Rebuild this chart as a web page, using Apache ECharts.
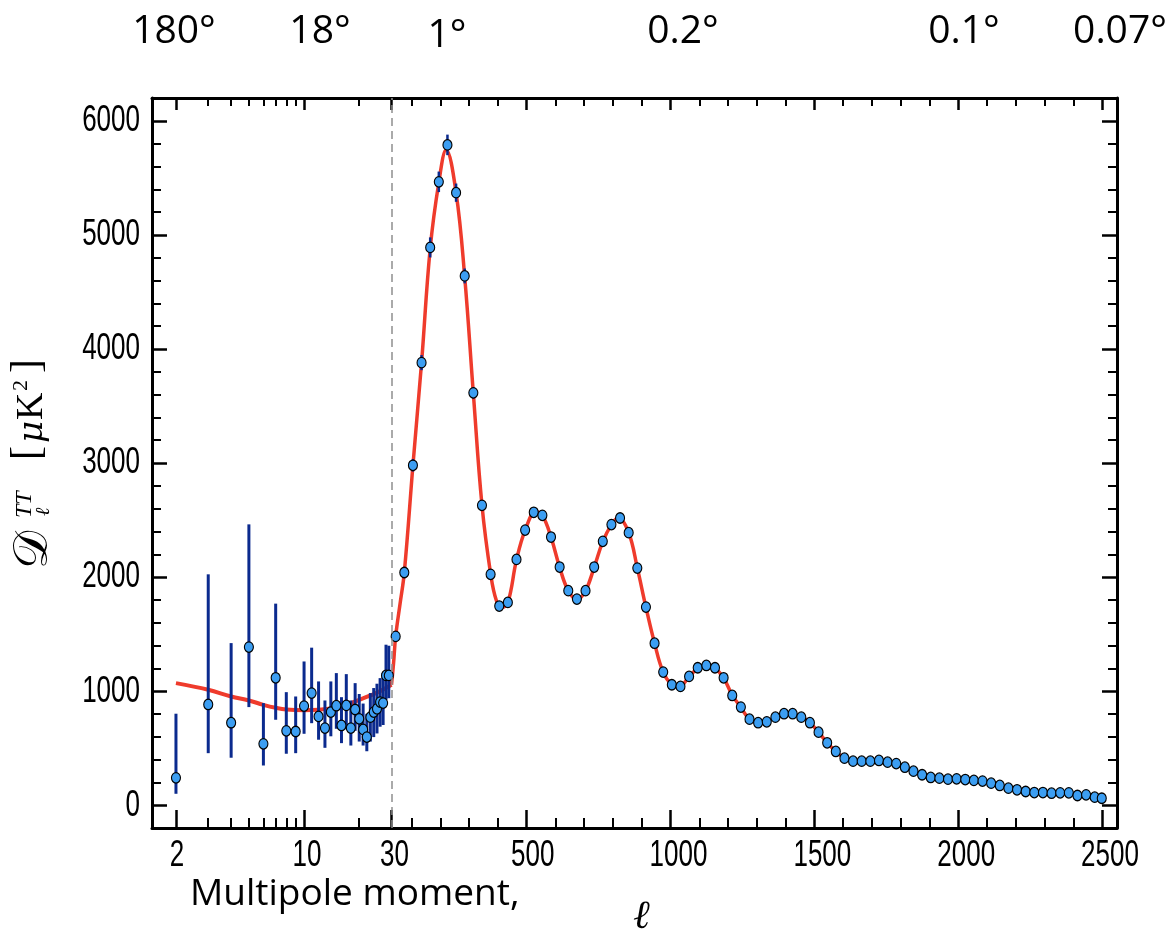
<!DOCTYPE html>
<html><head><meta charset="utf-8">
<script src="https://cdn.jsdelivr.net/npm/echarts@6/dist/echarts.min.js"></script>
<style>html,body{margin:0;padding:0;background:#fff}#c{width:1172px;height:937px}</style>
</head><body><div id="c"></div>
<script>
// ---------- data ----------
const lowL = [2,3,4,5,6,7,8,9,10,11,12,13,14,15,16,17,18,19,20,21,22,23,24,25,26,27,28,29];
const lowD = [240,883,723,1386,538,1117,652,646,869,983,778,676,816,872,699,875,676,839,757,664,597,772,816,845,904,895,1138,1138];
const lowErrLo = [100,456,416,860,348,749,451,456,626,719,574,503,604,670,544,666,523,652,558,523,473,558,597,629,688,703,924,938];
const lowErrHi = [802,2024,1421,2462,895,1767,991,953,1260,1381,1085,918,1085,1158,947,1149,918,1070,975,891,801,983,1027,1065,1114,1158,1407,1398];

const highL = [44.5,74.5,104.5,134.5,164.5,194.5,224.5,254.5,284.5,314.5,
  344.5,374.5,404.5,434.5,464.5,494.5,524.5,554.5,584.5,614.5,
  644.5,674.5,704.5,734.5,764.5,794.5,824.5,854.5,884.5,914.5,
  944.5,974.5,1004.5,1034.5,1064.5,1094.5,1124.5,1154.5,1184.5,1214.5,
  1244.5,1274.5,1304.5,1334.5,1364.5,1394.5,1424.5,1454.5,1484.5,1514.5,
  1544.5,1574.5,1604.5,1634.5,1664.5,1694.5,1724.5,1754.5,1784.5,1814.5,
  1844.5,1874.5,1904.5,1934.5,1964.5,1994.5,2024.5,2054.5,2084.5,2114.5,
  2144.5,2174.5,2204.5,2234.5,2264.5,2294.5,2324.5,2354.5,2384.5,2414.5,
  2444.5,2474.5,2499];
const highD = [1480,2040,2980,3880,4890,5465,5789,5370,4640,3615,
  2629,2024,1746,1778,2155,2412,2568,2541,2351,2088,
  1881,1807,1881,2088,2313,2460,2518,2389,2079,1737,
  1420,1167,1056,1041,1129,1205,1225,1205,1117,962,
  860,754,723,731,772,802,802,772,723,640,
  547,471,412,386,386,386,392,377,365,333,
  298,267,243,237,228,231,225,217,211,193,
  173,149,135,120,111,111,105,108,108,85,
  91,70,61];
const highErr = [45,50,55,66,88,90,90,80,65,50,
  40,40,40,40,40,40,40,40,40,40,
  40,40,40,40,40,40,40,40,40,40,
  35,35,35,35,35,35,35,35,35,35,
  35,35,35,35,35,35,35,35,35,35,
  25,25,25,25,25,25,25,25,25,25,
  25,25,25,25,25,25,25,25,25,25,
  20,20,20,20,20,20,20,20,20,20,
  20,20,20];

const theoryLowL = [2,3,4,5,6,7,8,10,12,15,18,20,23,26,30];
const theoryLowD = [1070,1012,953,918,880,854,839,833,837,860,895,924,962,1000,1056];
const theoryHighL = [30,37,44.5,60,74.5,104.5,134.5,164.5,194.5,220,254.5,284.5,314.5,344.5,374.5,
  395,414,434.5,464.5,494.5,532,554.5,584.5,614.5,644.5,675,704.5,734.5,764.5,794.5,
  818,854.5,884.5,914.5,944.5,974.5,1004.5,1030,1064.5,1094.5,1124.5,1154.5,1184.5,1214.5,1244.5,
  1274.5,1310,1334.5,1364.5,1408,1454.5,1484.5,1514.5,1544.5,1574.5,1604.5,1634.5,1664.5,1694.5,1724.5,
  1754.5,1784.5,1814.5,1844.5,1874.5,1904.5,1934.5,1964.5,1994.5,2024.5,2054.5,2084.5,2114.5,2144.5,2174.5,
  2204.5,2234.5,2264.5,2294.5,2324.5,2354.5,2384.5,2414.5,2444.5,2474.5,2505];
const theoryHighD = [1056,1240,1480,1770,2040,2980,3880,4880,5460,5745,5370,4630,3610,2630,2030,
  1790,1735,1775,2150,2410,2572,2540,2350,2085,1880,1803,1880,2085,2310,2460,
  2520,2390,2080,1735,1420,1165,1058,1040,1125,1200,1225,1202,1115,965,858,
  755,722,732,772,803,775,723,640,548,471,412,388,385,386,390,
  378,363,333,298,267,245,236,229,229,224,217,209,194,173,151,
  135,122,113,110,106,106,102,90,84,72,62];

const logMajorTicks = [2,10,30];
const logMinorTicks = [3,4,5,6,7,8,9,20];
const linMajorTicks = [500,1000,1500,2000,2500];
const linMinorTicks = [100,200,300,400,600,700,800,900,1100,1200,1300,1400,1600,1700,1800,1900,2100,2200,2300,2400];
const yMajorTicks = [0,1000,2000,3000,4000,5000,6000];
const yMinorTicks = [200,400,600,800,1200,1400,1600,1800,2200,2400,2600,2800,3200,3400,3600,3800,4200,4400,4600,4800,5200,5400,5600,5800];
const topLabels = ['180°','18°','1°','0.2°','0.1°','0.07°'];
const xAxisTitle = 'Multipole moment,';

// ---------- chart ----------
const L_MIN = 1.48, L_SPLIT = 30, L_MAX = 2552, Y_MIN = -200, Y_MAX = 6200;
const BLACK = '#000';

function tickAxis(opts) {
  const base = {
    type: 'value', scale: true,
    splitLine: {show: false},
    axisLine: {show: false, onZero: false, lineStyle: {color: BLACK, width: 3}},
    axisTick: {show: true, inside: true, lineStyle: {color: BLACK, width: 2.5}},
    axisLabel: {show: false}
  };
  const o = Object.assign(base, opts);
  o.axisLine = Object.assign({onZero: false}, o.axisLine);
  return o;
}
function ticks(values, len, width) {
  return {show: true, inside: true, length: len, customValues: values, lineStyle: {color: BLACK, width: width}};
}
const SOLID = {show: true, onZero: false, lineStyle: {color: BLACK, width: 3}};
const lg = v => Math.log10(v);
const lgMin = lg(L_MIN), lgMax = lg(L_SPLIT);

const xAxes = [
  {type: 'log', gridIndex: 0, min: L_MIN, max: L_SPLIT, show: false, logBase: 10, axisLine: {onZero: false}},
  tickAxis({gridIndex: 0, position: 'bottom', min: lgMin, max: lgMax, axisLine: SOLID, axisTick: ticks(logMajorTicks.map(lg), 18, 2.5)}),
  tickAxis({gridIndex: 0, position: 'bottom', min: lgMin, max: lgMax, axisTick: ticks(logMinorTicks.map(lg), 10, 2)}),
  tickAxis({gridIndex: 0, position: 'top', min: lgMin, max: lgMax, axisLine: SOLID, axisTick: ticks(logMajorTicks.map(lg), 12, 2.5)}),
  tickAxis({gridIndex: 0, position: 'top', min: lgMin, max: lgMax, axisTick: ticks(logMinorTicks.map(lg), 8, 2)}),
  tickAxis({gridIndex: 1, position: 'bottom', min: L_SPLIT, max: L_MAX, axisLine: SOLID, axisTick: ticks(linMajorTicks, 18, 2.5)}),
  tickAxis({gridIndex: 1, position: 'bottom', min: L_SPLIT, max: L_MAX, axisTick: ticks(linMinorTicks, 10, 2)}),
  tickAxis({gridIndex: 1, position: 'top', min: L_SPLIT, max: L_MAX, axisLine: SOLID, axisTick: ticks(linMajorTicks, 12, 2.5)}),
  tickAxis({gridIndex: 1, position: 'top', min: L_SPLIT, max: L_MAX, axisTick: ticks(linMinorTicks, 8, 2)})
];
const yAxes = [
  tickAxis({gridIndex: 0, position: 'left', min: Y_MIN, max: Y_MAX, axisLine: SOLID, axisTick: ticks(yMajorTicks, 15, 2.5)}),
  tickAxis({gridIndex: 0, position: 'left', min: Y_MIN, max: Y_MAX, axisTick: ticks(yMinorTicks, 9, 2)}),
  tickAxis({gridIndex: 1, position: 'right', min: Y_MIN, max: Y_MAX, axisLine: SOLID, axisTick: ticks(yMajorTicks, 15, 2.5)}),
  tickAxis({gridIndex: 1, position: 'right', min: Y_MIN, max: Y_MAX, axisTick: ticks(yMinorTicks, 9, 2)})
];

const RED = '#ef3b2c', NAVY = '#0b2a8e', DOT = '#3c9ef2';

function errBar(width) {
  return function (params, api) {
    const x = api.value(0);
    const p1 = api.coord([x, api.value(1)]);
    const p2 = api.coord([x, api.value(2)]);
    return {type: 'line', shape: {x1: p1[0], y1: p1[1], x2: p2[0], y2: p2[1]},
      style: {stroke: NAVY, lineWidth: width}};
  };
}

const series = [
  {type: 'line', xAxisIndex: 0, yAxisIndex: 0, data: theoryLowL.map((l, i) => [l, theoryLowD[i]]),
    smooth: 0.4, showSymbol: false, lineStyle: {color: RED, width: 4}, z: 2, silent: true},
  {type: 'line', xAxisIndex: 5, yAxisIndex: 2, data: theoryHighL.map((l, i) => [l, theoryHighD[i]]),
    smooth: 0.4, showSymbol: false, lineStyle: {color: RED, width: 3.5}, z: 2, silent: true,
    markLine: {silent: true, symbol: 'none', label: {show: false},
      lineStyle: {color: '#8f8f8f', type: [8, 5], width: 1.5}, data: [{xAxis: L_SPLIT}]}},
  {type: 'custom', xAxisIndex: 0, yAxisIndex: 0, renderItem: errBar(3), z: 3,
    encode: {x: 0, y: [1, 2]}, data: lowL.map((l, i) => [l, lowErrLo[i], lowErrHi[i]])},
  {type: 'custom', xAxisIndex: 5, yAxisIndex: 2, renderItem: errBar(2.5), z: 3,
    encode: {x: 0, y: [1, 2]}, data: highL.map((l, i) => [l, highD[i] - highErr[i], highD[i] + highErr[i]])},
  {type: 'scatter', xAxisIndex: 0, yAxisIndex: 0, data: lowL.map((l, i) => [l, lowD[i]]),
    symbolSize: [9, 10.5], itemStyle: {color: DOT, borderColor: '#000', borderWidth: 1.2, opacity: 1}, z: 4},
  {type: 'scatter', xAxisIndex: 5, yAxisIndex: 2, data: highL.map((l, i) => [l, highD[i]]),
    symbolSize: [9, 10.5], itemStyle: {color: DOT, borderColor: '#000', borderWidth: 1.2, opacity: 1}, z: 4}
];

const chart = echarts.init(document.getElementById('c'), null, {renderer: 'canvas'});
chart.setOption({
  animation: false,
  backgroundColor: '#fff',
  grid: [
    {left: 152, top: 98, width: 239.5, height: 730},
    {left: 391.5, top: 98, width: 725.5, height: 730}
  ],
  xAxis: xAxes,
  yAxis: yAxes,
  series: series
});

// ---------- texts ----------
const tickFont = "26px 'Liberation Sans', Arial, sans-serif";
const TICK_SCALE_Y = 1.45;
const graphic = [];
function tickText(text, x, y, align) {
  graphic.push({type: 'text', x: x, y: y, scaleY: TICK_SCALE_Y, silent: true,
    style: {text: text, fill: '#000', font: tickFont, textAlign: align, textVerticalAlign: 'middle'}});
}
yMajorTicks.forEach(v => {
  const py = chart.convertToPixel({yAxisIndex: 0}, v);
  tickText(String(v), 140, py, 'right');
});
logMajorTicks.forEach(v => {
  const px = chart.convertToPixel({xAxisIndex: 0}, v);
  const s = String(v);
  tickText(s, px + 2 * (s.length - 1) + 1, 856, 'center');
});
linMajorTicks.forEach(v => {
  const px = chart.convertToPixel({xAxisIndex: 5}, v);
  const s = String(v);
  tickText(s, px + 2 * (s.length - 1) + 2, 856, 'center');
});

const topX = [174, 320, 447, 683, 964, 1120];
const topY = [32, 32, 36, 32, 32, 32];
topLabels.forEach((t, i) => graphic.push({
  type: 'text', x: topX[i], y: topY[i], silent: true,
  style: {text: t, fill: '#000', font: "39px 'Open Sans', sans-serif", textAlign: 'center', textVerticalAlign: 'middle'}
}));
graphic.push({type: 'text', x: 190, y: 894, silent: true,
  style: {text: xAxisTitle, fill: '#000', font: "37px 'Open Sans', sans-serif", textAlign: 'left', textVerticalAlign: 'middle'}});
graphic.push({type: 'text', x: 633, y: 918, silent: true,
  style: {text: 'ℓ', fill: '#000', font: "italic 40px 'DejaVu Serif', serif", textAlign: 'left', textVerticalAlign: 'middle'}});
const serif = "'Liberation Serif','DejaVu Serif',serif";
graphic.push({type: 'group', x: 38, y: 463, rotation: Math.PI / 2, silent: true, children: [
  {type: 'text', x: -106, y: -3, style: {text: '𝒟', fill: '#000', font: "48px 'DejaVu Sans','DejaVu Serif',serif", textAlign: 'left', textVerticalAlign: 'middle'}},
  {type: 'text', x: -55, y: -13, style: {text: 'TT', fill: '#000', font: "italic 24px " + serif, textAlign: 'left', textVerticalAlign: 'middle'}},
  {type: 'text', x: -53, y: 6, style: {text: 'ℓ', fill: '#000', font: "italic 20px 'DejaVu Serif',serif", textAlign: 'left', textVerticalAlign: 'middle'}},
  {type: 'text', x: 3, y: -10, style: {text: '[', fill: '#000', font: "42px " + serif, textAlign: 'left', textVerticalAlign: 'middle'}},
  {type: 'text', x: 20, y: -5, style: {text: 'μ', fill: '#000', font: "italic 34px 'DejaVu Serif',serif", textAlign: 'left', textVerticalAlign: 'middle'}},
  {type: 'text', x: 43, y: -6, style: {text: 'K', fill: '#000', font: "38px " + serif, textAlign: 'left', textVerticalAlign: 'middle'}},
  {type: 'text', x: 72, y: -17, style: {text: '2', fill: '#000', font: "22px " + serif, textAlign: 'left', textVerticalAlign: 'middle'}},
  {type: 'text', x: 90, y: -10, style: {text: ']', fill: '#000', font: "42px " + serif, textAlign: 'left', textVerticalAlign: 'middle'}}
]});
chart.setOption({graphic: graphic});
</script></body></html>
